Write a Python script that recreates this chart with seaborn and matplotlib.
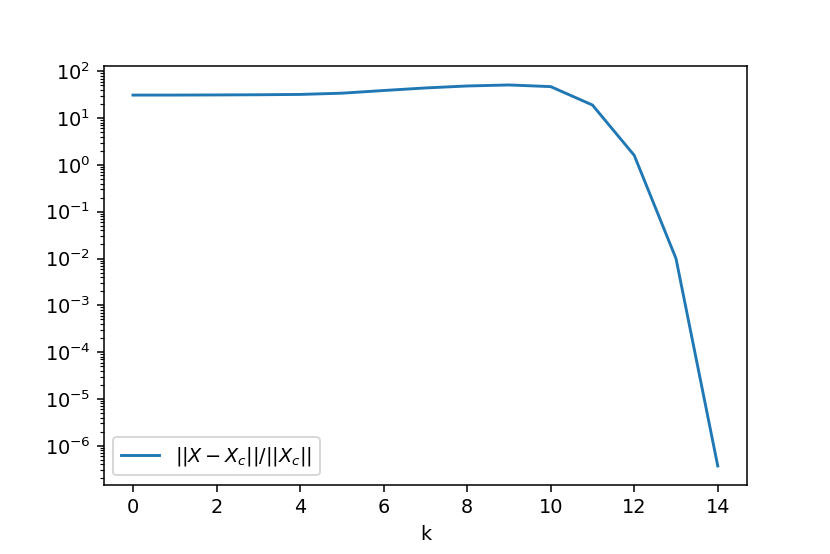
import numpy as np
import pandas as pd
import seaborn as sns
import matplotlib
matplotlib.use("Agg")
import matplotlib.pyplot as plt

# relative error per iteration k
k = [0, 1, 2, 3, 4, 5, 6, 7, 8, 9, 10, 11, 12, 13, 14]
rel_err = [31.0, 31.0, 31.2, 31.5, 32.0, 34.0, 38.8, 44.0, 48.5, 51.0,
           47.0, 19.0, 1.6, 0.0100, 3.7e-7]
label = r'$||X-X_c||/||X_c||$'

df = pd.DataFrame({'k': k, 'err': rel_err})

fig, ax = plt.subplots(figsize=(6, 4.005), dpi=830 / 6)
fig.subplots_adjust(left=0.125, right=0.9, top=0.881, bottom=0.1245)

sns.lineplot(data=df, x='k', y='err', ax=ax, color='#1f77b4',
             linewidth=1.5, label=label)
ax.set_yscale('log')
ax.set_xlabel('k')
ax.set_ylabel('')
ax.legend(loc='lower left')

fig.savefig('out.png', dpi=830 / 6)
